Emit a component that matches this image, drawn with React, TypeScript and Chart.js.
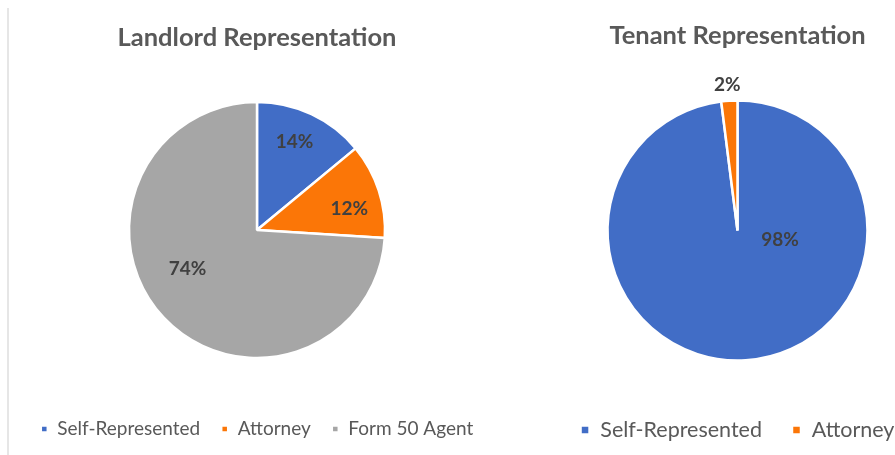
import React, { useEffect, useRef } from "react";
import { Chart, registerables } from "chart.js";

Chart.register(...registerables);

const landlordTitle = "Landlord Representation";
const landlordLabels = ["Self-Represented", "Attorney", "Form 50 Agent"];
const landlordValues = [14, 12, 74];

const tenantTitle = "Tenant Representation";
const tenantLabels = ["Self-Represented", "Attorney"];
const tenantValues = [98, 2];

const BLUE = "#416DC6";
const ORANGE = "#FB7607";
const GRAY = "#A6A6A6";
const FONT = "Lato, 'Open Sans', sans-serif";

const pctLabels = {
  id: "pctLabels",
  afterDatasetsDraw(chart: any, _args: any, opts: any) {
    const meta = chart.getDatasetMeta(0);
    const data = chart.data.datasets[0].data as number[];
    const total = data.reduce((a: number, b: number) => a + b, 0);
    const ctx = chart.ctx;
    ctx.save();
    ctx.font = `bold ${opts.size}px ${FONT}`;
    ctx.fillStyle = opts.color;
    ctx.textAlign = "center";
    ctx.textBaseline = "middle";
    meta.data.forEach((arc: any, i: number) => {
      const p = opts.placement[i];
      const a = ((p[0] - 90) * Math.PI) / 180;
      const r = arc.outerRadius * p[1];
      ctx.fillText(
        Math.round((data[i] / total) * 100) + "%",
        arc.x + Math.cos(a) * r,
        arc.y + Math.sin(a) * r
      );
    });
    ctx.restore();
  },
};

type PieProps = {
  title: string;
  labels: string[];
  values: number[];
  colors: string[];
  radius: number;
  titleSize: number;
  titlePad: { top: number; bottom: number };
  legendSize: number;
  legendPad: number;
  legendBox: number;
  bottomPad: number;
  placement: number[][];
  style: React.CSSProperties;
};

function PieChart(p: PieProps) {
  const ref = useRef<HTMLCanvasElement>(null);
  useEffect(() => {
    if (!ref.current) return;
    const chart = new Chart(ref.current, {
      type: "pie",
      data: {
        labels: p.labels,
        datasets: [
          {
            data: p.values,
            backgroundColor: p.colors,
            borderColor: "#ffffff",
            borderWidth: 2.5,
            radius: p.radius,
          } as any,
        ],
      },
      options: {
        animation: false,
        responsive: false,
        maintainAspectRatio: false,
        layout: { padding: { top: 0, left: 0, right: 0, bottom: p.bottomPad } },
        plugins: {
          title: {
            display: true,
            text: p.title,
            color: "#595959",
            font: { family: FONT, size: p.titleSize, weight: "bold" },
            padding: p.titlePad,
          },
          legend: {
            display: true,
            position: "bottom",
            labels: {
              color: "#595959",
              font: { family: FONT, size: p.legendSize },
              boxWidth: p.legendBox,
              boxHeight: p.legendBox,
              padding: p.legendPad,
            },
          },
          tooltip: { enabled: false },
          pctLabels: { size: 19, color: "#404040", placement: p.placement },
        } as any,
      },
      plugins: [pctLabels as any],
    });
    return () => chart.destroy();
  }, []);
  const w = p.style.width as number;
  const h = p.style.height as number;
  return (
    <canvas
      ref={ref}
      width={w}
      height={h}
      style={{ position: "absolute", ...p.style }}
    />
  );
}

export default function App() {
  return (
    <div
      style={{
        position: "absolute",
        left: 0,
        top: 0,
        width: 895,
        height: 455,
        overflow: "hidden",
        background: "#ffffff",
      }}
    >
      <div
        style={{
          position: "absolute",
          left: 7,
          top: 8,
          width: 2,
          height: 447,
          background: "#e6e6e6",
        }}
      />
      <PieChart
        title={landlordTitle}
        labels={landlordLabels}
        values={landlordValues}
        colors={[BLUE, ORANGE, GRAY]}
        radius={128}
        titleSize={25.5}
        titlePad={{ top: 22.7, bottom: 8.2 }}
        legendSize={19}
        legendPad={21}
        legendBox={7}
        bottomPad={6.5}
        placement={[
          [23, 0.75],
          [77, 0.74],
          [241, 0.62],
        ]}
        style={{ left: 10, top: 0, width: 494, height: 455 }}
      />
      <PieChart
        title={tenantTitle}
        labels={tenantLabels}
        values={tenantValues}
        colors={[BLUE, ORANGE]}
        radius={130}
        titleSize={25.5}
        titlePad={{ top: 20.7, bottom: 20.45 }}
        legendSize={21.5}
        legendPad={30}
        legendBox={9}
        bottomPad={4.25}
        placement={[
          [103, 0.335],
          [356, 1.12],
        ]}
        style={{ left: 501, top: 0, width: 473, height: 455 }}
      />
    </div>
  );
}
